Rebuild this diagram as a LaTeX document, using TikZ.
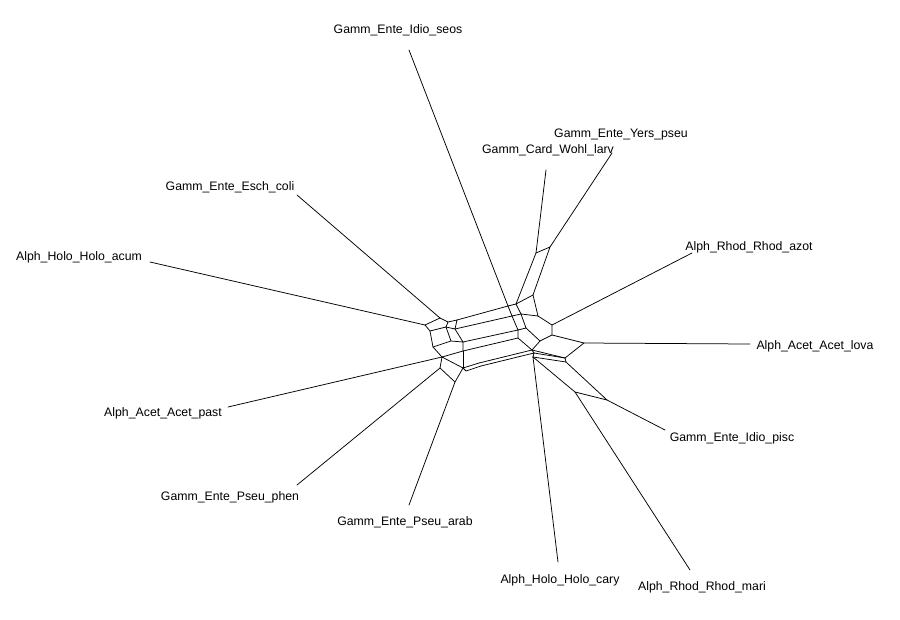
\documentclass[tikz,border=0pt]{standalone}
\usepackage{fontspec}
\setmainfont{Liberation Sans}
\begin{document}
\begin{tikzpicture}[x=1pt,y=-1pt,
  lbl/.style={font=\fontsize{12.3}{14}\selectfont, inner sep=0pt},
  edge/.style={line width=0.75pt, line cap=round, line join=round}]
\useasboundingbox (0,0) rectangle (900,619);
% labels
\node[lbl] (seos) at (398,30) {Gamm\_Ente\_Idio\_seos};
\node[lbl] (yers) at (621,134) {Gamm\_Ente\_Yers\_pseu};
\node[lbl] (larv) at (548,150) {Gamm\_Card\_Wohl\_larv};
\node[lbl] (esch) at (230,187) {Gamm\_Ente\_Esch\_coli};
\node[lbl] (azot) at (749,247) {Alph\_Rhod\_Rhod\_azot};
\node[lbl] (acum) at (79,257) {Alph\_Holo\_Holo\_acum};
\node[lbl] (lova) at (815,346) {Alph\_Acet\_Acet\_lova};
\node[lbl] (past) at (163,413) {Alph\_Acet\_Acet\_past};
\node[lbl] (pisc) at (732,438) {Gamm\_Ente\_Idio\_pisc};
\node[lbl] (phen) at (230,497) {Gamm\_Ente\_Pseu\_phen};
\node[lbl] (arab) at (405,522) {Gamm\_Ente\_Pseu\_arab};
\node[lbl] (cary) at (560,580) {Alph\_Holo\_Holo\_cary};
\node[lbl] (mari) at (702,587) {Alph\_Rhod\_Rhod\_mari};
% leaf ends
\coordinate (eseos) at (409,50);
\coordinate (eyers) at (612,153);
\coordinate (elarv) at (546,170);
\coordinate (eesch) at (297,195);
\coordinate (eazot) at (692,253);
\coordinate (eacum) at (150,262);
\coordinate (elova) at (750,344);
\coordinate (epast) at (228,407);
\coordinate (episc) at (665,430);
\coordinate (ephen) at (297,485);
\coordinate (earab) at (409,505);
\coordinate (ecary) at (558,562);
\coordinate (emari) at (690,570);
% left cluster
\coordinate (N1) at (425,325);
\coordinate (N2) at (440,318);
\coordinate (N3) at (448,322);
\coordinate (N4) at (430,331);
\coordinate (N5) at (446,327);
\coordinate (N6) at (457,320);
\coordinate (N7) at (455,329);
\coordinate (N8) at (433,347);
\coordinate (N10) at (451,341);
\coordinate (N11) at (463,342);
\coordinate (N9) at (442,357);
\coordinate (N13) at (463,351);
\coordinate (N14) at (463,368);
\coordinate (N15) at (455,382);
\coordinate (N16) at (440,368);
\coordinate (N17) at (479,363);
\coordinate (N18) at (466,371);
\coordinate (N19) at (481,366);
% right cluster
\coordinate (M1) at (508,306);
\coordinate (M2) at (516,304);
\coordinate (M3) at (533,295);
\coordinate (ML) at (536,253);
\coordinate (MY) at (550,247);
\coordinate (M4) at (538,316);
\coordinate (M5) at (512,316);
\coordinate (M6) at (521,314);
\coordinate (M7) at (518,330);
\coordinate (M8) at (526,328);
\coordinate (M9) at (552,325);
\coordinate (M10) at (552,335);
\coordinate (M11) at (540,341);
\coordinate (M12) at (518,338);
\coordinate (M13) at (532,350);
\coordinate (M14) at (584,343);
\coordinate (M15) at (565,358);
\coordinate (M16) at (533,357);
\coordinate (M17) at (534,353);
\coordinate (M18) at (566,362);
\coordinate (MR) at (575,392);
\coordinate (MP) at (607,400);
% leaf edges
\draw[edge] (eseos) -- (M1);
\draw[edge] (elarv) -- (ML);
\draw[edge] (eyers) -- (MY);
\draw[edge] (eesch) -- (N2);
\draw[edge] (eacum) -- (N1);
\draw[edge] (epast) -- (N9);
\draw[edge] (ephen) -- (N16);
\draw[edge] (earab) -- (N15);
\draw[edge] (ecary) -- (M16);
\draw[edge] (emari) -- (MR);
\draw[edge] (episc) -- (MP);
\draw[edge] (eazot) -- (M9);
\draw[edge] (elova) -- (M14);
% left cluster edges
\draw[edge] (N1) -- (N2) -- (N3) -- (N5) -- (N4) -- (N1);
\draw[edge] (N3) -- (N6) -- (N7) -- (N5);
\draw[edge] (N4) -- (N8) -- (N9);
\draw[edge] (N8) -- (N10) -- (N11) -- (N7);
\draw[edge] (N10) -- (N5);
\draw[edge] (N9) -- (N13) -- (N11);
\draw[edge] (N9) -- (N14) -- (N15) -- (N16) -- (N9);
\draw[edge] (N13) -- (N14);
\draw[edge] (N14) -- (N17);
\draw[edge] (N14) -- (N18) -- (N19);
% long edges
\draw[edge] (N6) -- (M1);
\draw[edge] (N7) -- (M5);
\draw[edge] (N11) -- (M7);
\draw[edge] (N13) -- (M12);
\draw[edge] (N17) -- (M13);
\draw[edge] (N19) -- (M17);
% right cluster edges
\draw[edge] (ML) -- (MY) -- (M3) -- (M2) -- (ML);
\draw[edge] (M1) -- (M2);
\draw[edge] (M3) -- (M4) -- (M6) -- (M2);
\draw[edge] (M1) -- (M5) -- (M6);
\draw[edge] (M5) -- (M7) -- (M8) -- (M6);
\draw[edge] (M4) -- (M9) -- (M10) -- (M11) -- (M8);
\draw[edge] (M7) -- (M12) -- (M13) -- (M11);
\draw[edge] (M10) -- (M14) -- (M15) -- (M13);
\draw[edge] (M15) -- (M17);
\draw[edge] (M13) -- (M17) -- (M16);
\draw[edge] (M16) -- (MR) -- (MP) -- (M18) -- (M15);
\draw[edge] (M18) -- (M16);
\end{tikzpicture}
\end{document}
